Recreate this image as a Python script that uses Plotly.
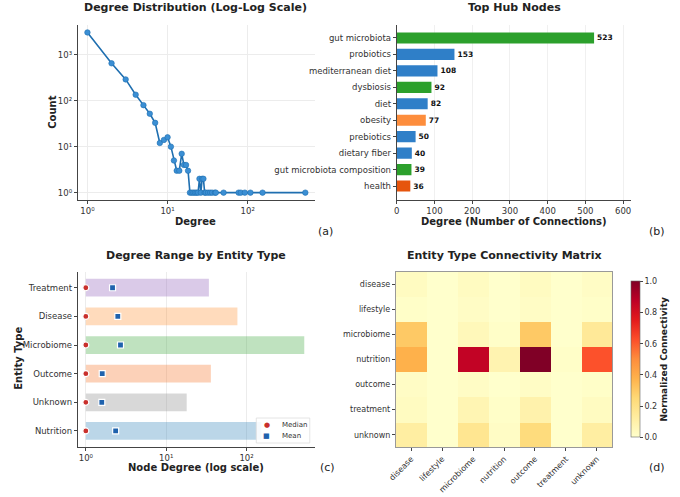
import plotly.graph_objects as go
import plotly.colors as pc

# ---------------- data ----------------
deg_values = [1, 2, 3, 4, 5, 6, 7, 8, 9, 10, 11, 12, 13, 14, 15, 16, 17, 18, 19, 20,
              21, 22, 23, 24, 25, 26, 27, 28, 29, 30, 32, 34, 36, 39, 40, 50, 77, 82,
              92, 108, 153, 523]
deg_counts = [3050, 650, 290, 135, 80, 52, 33, 12, 14, 16, 10, 5, 3, 3, 7, 4, 4, 3, 1, 1,
              1, 1, 1, 1, 2, 1, 2, 2, 1, 1, 1, 1, 1, 1, 1, 1, 1, 1,
              1, 1, 1, 1]

hub_names = ["gut microbiota", "probiotics", "mediterranean diet", "dysbiosis", "diet",
             "obesity", "prebiotics", "dietary fiber", "gut microbiota composition", "health"]
hub_degree = [523, 153, 108, 92, 82, 77, 50, 40, 39, 36]
hub_colors = ["#2ca02c", "#2f7fc8", "#2f7fc8", "#2ca02c", "#2f7fc8",
              "#fd8d3c", "#2f7fc8", "#2f7fc8", "#2ca02c", "#e6550d"]

entity_types = ["Treatment", "Disease", "Microbiome", "Outcome", "Unknown", "Nutrition"]
entity_min = [1, 1, 1, 1, 1, 1]
entity_max = [34, 77, 523, 36, 18, 153]
entity_median = [1, 1, 1, 1, 1, 1]
entity_mean = [2.15, 2.5, 2.7, 1.6, 1.58, 2.35]
entity_fill = ["rgba(148,103,189,0.35)", "rgba(255,127,14,0.28)", "rgba(44,160,44,0.30)",
               "rgba(245,115,40,0.33)", "rgba(127,127,127,0.30)", "rgba(31,119,180,0.30)"]

legend_names = ["Median", "Mean"]
legend_symbols = ["●", "■"]
legend_colors = ["#c9302c", "#1f62ad"]

matrix_labels = ["disease", "lifestyle", "microbiome", "nutrition", "outcome", "treatment", "unknown"]
matrix_values = [
    [0.03, 0.00, 0.03, 0.00, 0.03, 0.00, 0.02],
    [0.01, 0.00, 0.02, 0.00, 0.02, 0.00, 0.01],
    [0.30, 0.00, 0.05, 0.01, 0.30, 0.00, 0.15],
    [0.38, 0.00, 0.86, 0.08, 1.00, 0.01, 0.62],
    [0.02, 0.00, 0.02, 0.00, 0.02, 0.00, 0.01],
    [0.03, 0.00, 0.07, 0.01, 0.09, 0.00, 0.03],
    [0.12, 0.00, 0.17, 0.02, 0.23, 0.00, 0.12],
]

W, H = 680, 497
FONT = "DejaVu Sans"
TXT = "#222222"


def px(x):
    return x / W


def py(y):
    return 1 - y / H


fig = go.Figure()

# (a) degree distribution
fig.add_trace(go.Scatter(
    x=deg_values, y=deg_counts, mode="lines+markers",
    line=dict(color="#1f6fb0", width=1.6),
    marker=dict(color="#3b8fd4", size=5.5, line=dict(color="#1f6fb0", width=0.6)),
    xaxis="x", yaxis="y", showlegend=False))

# (b) top hub nodes
fig.add_trace(go.Bar(
    x=hub_degree, y=hub_names, orientation="h", marker=dict(color=hub_colors, line_width=0),
    width=0.68, texttemplate="<b>%{x}</b>", textposition="outside", cliponaxis=False,
    textfont=dict(size=7.5, color="#111", family=FONT),
    xaxis="x2", yaxis="y2", showlegend=False))

# (c) degree range by entity type
fig.add_trace(go.Bar(
    x=[mx - mn for mx, mn in zip(entity_max, entity_min)], base=entity_min, y=entity_types,
    orientation="h", marker=dict(color=entity_fill, line_width=0), width=0.62,
    xaxis="x3", yaxis="y3", showlegend=False, hoverinfo="skip"))
fig.add_trace(go.Scatter(
    x=entity_median, y=entity_types, mode="markers", name="Median", showlegend=False,
    marker=dict(symbol="circle", color=legend_colors[0], size=6, line=dict(color="white", width=1.2)),
    xaxis="x3", yaxis="y3"))
fig.add_trace(go.Scatter(
    x=entity_mean, y=entity_types, mode="markers", name="Mean", showlegend=False,
    marker=dict(symbol="square", color=legend_colors[1], size=6, line=dict(color="white", width=1.2)),
    xaxis="x3", yaxis="y3"))

# (d) heatmap
fig.add_trace(go.Heatmap(
    z=matrix_values, x=matrix_labels, y=matrix_labels,
    colorscale=pc.sequential.YlOrRd, zmin=0, zmax=1,
    xaxis="x4", yaxis="y4", showscale=True,
    colorbar=dict(x=px(630), xanchor="left", y=py(447.3), yanchor="bottom",
                  len=175.6, lenmode="pixels", thickness=8.5, thicknessmode="pixels",
                  outlinewidth=0.6, outlinecolor="#666",
                  tickvals=[0, 0.2, 0.4, 0.6, 0.8, 1.0], tickformat=".1f",
                  ticks="outside", ticklen=3, tickcolor="#444",
                  tickfont=dict(size=8, color="#333", family=FONT),
                  title=dict(text="<b>Normalized Connectivity</b>", side="right",
                             font=dict(size=9, color=TXT, family=FONT)))))

axis_common = dict(showline=True, linecolor="#444", linewidth=1, ticks="outside", ticklen=3,
                   tickcolor="#444", tickfont=dict(size=8.5, color="#333", family=FONT),
                   zeroline=False, mirror=False)

log_ticktext = ["10⁰", "10¹", "10²", "10³"]

fig.update_layout(
    width=W, height=H, margin=dict(l=0, r=0, t=0, b=0),
    paper_bgcolor="white", plot_bgcolor="white",
    font=dict(family=FONT, color=TXT),
    barmode="overlay", showlegend=False,
    xaxis=dict(domain=[px(71.7), px(315)], anchor="y", type="log", range=[-0.12, 2.835],
               tickvals=[1, 10, 100], ticktext=log_ticktext[:3],
               showgrid=True, gridcolor="#ececec", **axis_common),
    yaxis=dict(domain=[py(200), py(25)], anchor="x", type="log", range=[-0.16, 3.646],
               tickvals=[1, 10, 100, 1000], ticktext=log_ticktext,
               showgrid=True, gridcolor="#ececec", **axis_common),
    xaxis2=dict(domain=[px(399.3), px(640)], anchor="y2", range=[0, 621],
                tickvals=[0, 100, 200, 300, 400, 500, 600],
                showgrid=True, gridcolor="#f0f0f0", **axis_common),
    yaxis2=dict(domain=[py(200), py(25)], anchor="x2", type="category",
                categoryorder="array", categoryarray=hub_names, range=[9.85, -0.79],
                showgrid=False, **axis_common),
    xaxis3=dict(domain=[px(71.7), px(315)], anchor="y3", type="log", range=[-0.1, 2.848],
                tickvals=[1, 10, 100], ticktext=log_ticktext[:3],
                showgrid=True, gridcolor="#ececec", **axis_common),
    yaxis3=dict(domain=[py(446.7), py(271.7)], anchor="x3", type="category",
                categoryorder="array", categoryarray=entity_types, range=[5.55, -0.56],
                showgrid=False, **axis_common),
    xaxis4=dict(domain=[px(398.3), px(620.7)], anchor="y4", tickangle=-45,
                showline=True, linecolor="#999", linewidth=0.8, mirror=True,
                ticks="outside", ticklen=3, tickcolor="#444",
                tickfont=dict(size=8, color="#333", family=FONT), showgrid=False, zeroline=False),
    yaxis4=dict(domain=[py(447.3), py(271.7)], anchor="x4", autorange="reversed",
                showline=True, linecolor="#999", linewidth=0.8, mirror=True,
                ticks="outside", ticklen=3, tickcolor="#444",
                tickfont=dict(size=8, color="#333", family=FONT), showgrid=False, zeroline=False),
)

# compact legend box for panel (c)
fig.add_shape(type="rect", xref="paper", yref="paper",
              x0=px(255), x1=px(310), y0=py(443), y1=py(418),
              fillcolor="rgba(255,255,255,0.88)", line=dict(color="#dddddd", width=0.8),
              layer="above")
for i, (name, sym, col) in enumerate(zip(legend_names, legend_symbols, legend_colors)):
    yy = 425 + i * 11
    fig.add_annotation(text=sym, x=px(266), y=py(yy), xref="paper", yref="paper",
                       showarrow=False, xanchor="center", yanchor="middle",
                       font=dict(size=7, color=col, family=FONT))
    fig.add_annotation(text=name, x=px(279), y=py(yy), xref="paper", yref="paper",
                       showarrow=False, xanchor="left", yanchor="middle",
                       font=dict(size=7, color="#333", family=FONT))

annots = [
    ("<b>Degree Distribution (Log-Log Scale)</b>", 193, 8, 11, 0),
    ("<b>Top Hub Nodes</b>", 520, 8, 11, 0),
    ("<b>Degree Range by Entity Type</b>", 193, 255, 11, 0),
    ("<b>Entity Type Connectivity Matrix</b>", 510, 255, 11, 0),
    ("<b>Degree</b>", 193, 221, 10, 0),
    ("<b>Count</b>", 45, 112, 10, -90),
    ("<b>Degree (Number of Connections)</b>", 520, 221, 10, 0),
    ("<b>Node Degree (log scale)</b>", 193, 467, 10, 0),
    ("<b>Entity Type</b>", 10, 358, 10, -90),
    ("(a)", 326, 232, 11, 0),
    ("(b)", 667, 232, 11, 0),
    ("(c)", 328, 467, 11, 0),
    ("(d)", 667, 467, 11, 0),
]
for text, x, y, size, ang in annots:
    fig.add_annotation(text=text, x=px(x), y=py(y), xref="paper", yref="paper",
                       showarrow=False, textangle=ang, xanchor="center", yanchor="middle",
                       font=dict(size=size, color=TXT, family=FONT))

fig.write_html("out.html")
